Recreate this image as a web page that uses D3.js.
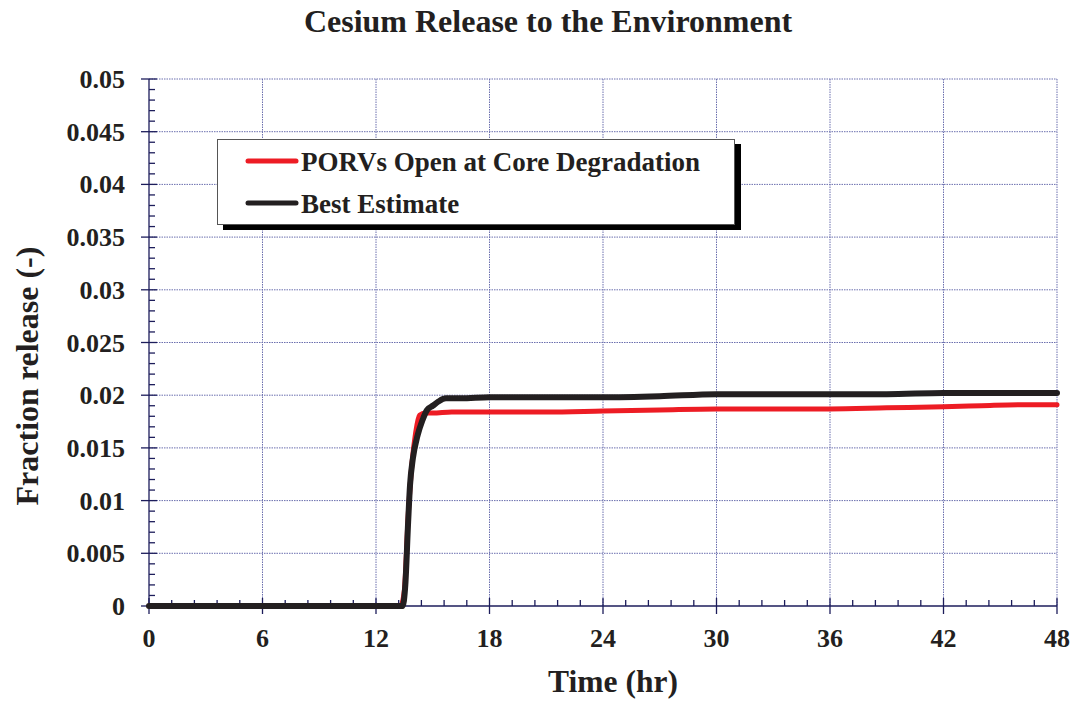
<!DOCTYPE html>
<html>
<head>
<meta charset="utf-8">
<script src="https://cdn.jsdelivr.net/npm/d3@7"></script>
<style>
  html, body { margin: 0; padding: 0; background: #fff; }
  svg { display: block; }
  text { font-family: "Liberation Serif", "Times New Roman", serif; font-weight: bold; fill: #231f20; }
</style>
</head>
<body>
<svg id="chart" width="1075" height="702"></svg>
<script>
// Time axis (hours) and fraction of cesium inventory released
const xTicks = [0, 6, 12, 18, 24, 30, 36, 42, 48];
const yTicks = [0, 0.005, 0.01, 0.015, 0.02, 0.025, 0.03, 0.035, 0.04, 0.045, 0.05];
const yTickLabels = ["0", "0.005", "0.01", "0.015", "0.02", "0.025", "0.03", "0.035", "0.04", "0.045", "0.05"];

const seriesNames = ["PORVs Open at Core Degradation", "Best Estimate"];
const seriesColors = ["#ed1c24", "#231f20"];

const porvTime  = [0, 13.3, 13.5, 13.7, 13.9, 14.1, 14.3, 14.6, 15, 16, 18, 21, 24, 27, 30, 33, 36, 39, 42, 44, 46, 48];
const porvValue = [0, 0, 0.0015, 0.0085, 0.0135, 0.0165, 0.0181, 0.0183, 0.0183, 0.0184, 0.0184, 0.0184, 0.0185, 0.0186, 0.0187, 0.0187, 0.0187, 0.0188, 0.0189, 0.0190, 0.0191, 0.0191];

const bestTime  = [0, 13.4, 13.55, 13.7, 13.8, 13.95, 14.2, 14.45, 14.7, 15.0, 15.3, 15.7, 16.5, 18, 21, 24, 27, 30, 33, 36, 39, 42, 45, 48];
const bestValue = [0, 0, 0.002, 0.0080, 0.0115, 0.0140, 0.0162, 0.0176, 0.0186, 0.0190, 0.0194, 0.0197, 0.0197, 0.0198, 0.0198, 0.0198, 0.0199, 0.0201, 0.0201, 0.0201, 0.0201, 0.0202, 0.0202, 0.0202];

const svg = d3.select("#chart");
const plotL = 149, plotR = 1057, plotT = 79, plotB = 606;

const x = d3.scaleLinear().domain([0, 48]).range([plotL, plotR]);
const y = d3.scaleLinear().domain([0, 0.05]).range([plotB, plotT]);

const gridColor = "#6b6fae";
const axisColor = "#1d1d5b";

// Dotted grid
const grid = svg.append("g");
grid.selectAll("line.gx").data(xTicks.slice(1)).join("line")
  .attr("x1", d => x(d)).attr("x2", d => x(d))
  .attr("y1", plotT).attr("y2", plotB)
  .attr("stroke", gridColor).attr("stroke-width", 1).attr("stroke-dasharray", "1.5,1");
grid.selectAll("line.gy").data(yTicks.slice(1)).join("line")
  .attr("x1", plotL).attr("x2", plotR)
  .attr("y1", d => y(d)).attr("y2", d => y(d))
  .attr("stroke", gridColor).attr("stroke-width", 1).attr("stroke-dasharray", "1.5,1");

// Minor ticks (inside)
const xMinor = d3.range(0, 48.001, 1.2).filter(v => !xTicks.some(t => Math.abs(t - v) < 1e-6));
const yMinor = d3.range(0, 0.05001, 0.001).filter(v => !yTicks.some(t => Math.abs(t - v) < 1e-9));
const axes = svg.append("g").attr("stroke", axisColor).attr("stroke-width", 1.3);
axes.selectAll("line.mx").data(xMinor).join("line")
  .attr("x1", d => x(d)).attr("x2", d => x(d)).attr("y1", plotB).attr("y2", plotB - 6);
axes.selectAll("line.my").data(yMinor).join("line")
  .attr("x1", plotL).attr("x2", plotL + 6).attr("y1", d => y(d)).attr("y2", d => y(d));
// Major ticks (crossing)
axes.selectAll("line.Mx").data(xTicks).join("line")
  .attr("x1", d => x(d)).attr("x2", d => x(d)).attr("y1", plotB - 8).attr("y2", plotB + 8);
axes.selectAll("line.My").data(yTicks).join("line")
  .attr("x1", plotL - 8).attr("x2", plotL + 8).attr("y1", d => y(d)).attr("y2", d => y(d));
// Axis lines
axes.append("line").attr("x1", plotL).attr("x2", plotR).attr("y1", plotB).attr("y2", plotB);
axes.append("line").attr("x1", plotL).attr("x2", plotL).attr("y1", plotT).attr("y2", plotB);

// Tick labels
svg.append("g").selectAll("text").data(xTicks).join("text")
  .attr("x", d => x(d)).attr("y", plotB + 41)
  .attr("text-anchor", "middle").attr("font-size", 26)
  .text(d => d);
svg.append("g").selectAll("text").data(yTicks).join("text")
  .attr("x", plotL - 24).attr("y", d => y(d) + 9)
  .attr("text-anchor", "end").attr("font-size", 26)
  .text((d, i) => yTickLabels[i]);

// Titles
svg.append("text").attr("x", 548).attr("y", 32).attr("text-anchor", "middle")
  .attr("font-size", 32).text("Cesium Release to the Environment");
svg.append("text").attr("x", 613).attr("y", 692).attr("text-anchor", "middle")
  .attr("font-size", 31.5).text("Time (hr)");
svg.append("text").attr("transform", "translate(38,376) rotate(-90)").attr("text-anchor", "middle")
  .attr("font-size", 32).text("Fraction release (-)");

// Data lines
const line = d3.line().x(d => x(d[0])).y(d => y(d[1])).curve(d3.curveMonotoneX);
const porv = porvTime.map((t, i) => [t, porvValue[i]]);
const best = bestTime.map((t, i) => [t, bestValue[i]]);
svg.append("path").datum(porv).attr("d", line)
  .attr("fill", "none").attr("stroke", seriesColors[0]).attr("stroke-width", 5)
  .attr("stroke-linejoin", "round").attr("stroke-linecap", "round");
svg.append("path").datum(best).attr("d", line)
  .attr("fill", "none").attr("stroke", seriesColors[1]).attr("stroke-width", 6)
  .attr("stroke-linejoin", "round").attr("stroke-linecap", "round");

// Legend with drop shadow
const lg = svg.append("g");
lg.append("rect").attr("x", 223).attr("y", 144).attr("width", 518).attr("height", 86).attr("fill", "#000");
lg.append("rect").attr("x", 217.5).attr("y", 139.5).attr("width", 517).attr("height", 85)
  .attr("fill", "#fff").attr("stroke", "#555").attr("stroke-width", 1);
seriesNames.forEach((name, i) => {
  const yy = 161 + i * 42;
  lg.append("line").attr("x1", 248).attr("x2", 296).attr("y1", yy).attr("y2", yy)
    .attr("stroke", seriesColors[i]).attr("stroke-width", 5).attr("stroke-linecap", "round");
  lg.append("text").attr("x", 301).attr("y", yy + 10).attr("font-size", 27).text(name);
});
</script>
</body>
</html>
